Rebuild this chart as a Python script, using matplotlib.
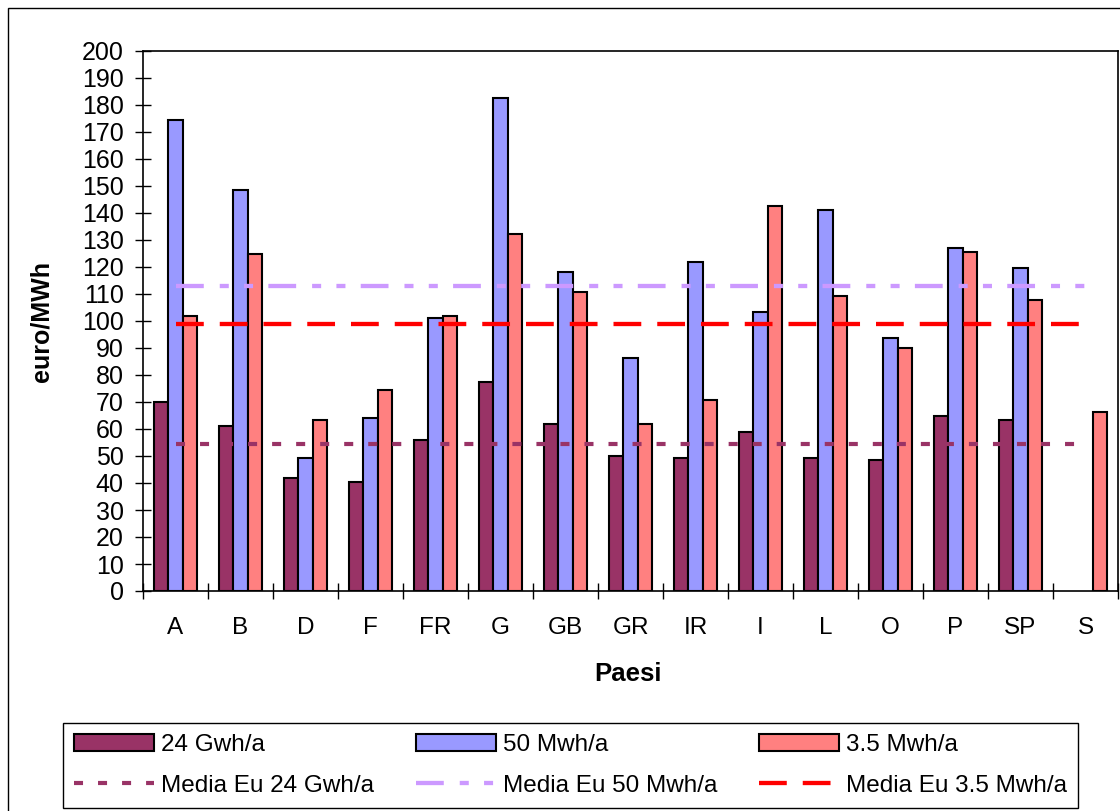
import numpy as np
import matplotlib
matplotlib.use("Agg")
import matplotlib.pyplot as plt
from matplotlib.patches import Rectangle

# prices per country, euro/MWh
paesi = ["A", "B", "D", "F", "FR", "G", "GB", "GR", "IR", "I", "L", "O", "P", "SP", "S"]
gwh_24 = [70, 61, 41.7, 40.2, 55.9, 77.4, 61.9, 49.9, 49.1, 58.9, 49.1, 48.5, 64.7, 63.3, np.nan]
mwh_50 = [174.5, 148.6, 49.3, 64, 101.2, 182.6, 118, 86.4, 121.9, 103.3, 141.1, 93.7, 126.9, 119.5, np.nan]
mwh_35 = [101.9, 124.9, 63.3, 74.4, 101.9, 132.1, 110.7, 61.9, 70.7, 142.6, 109.1, 90, 125.6, 107.8, 66.3]

# EU averages
media_24 = 54.5
media_50 = 113
media_35 = 99

series_labels = ["24 Gwh/a", "50 Mwh/a", "3.5 Mwh/a"]
media_labels = ["Media Eu 24 Gwh/a", "Media Eu 50 Mwh/a", "Media Eu 3.5 Mwh/a"]

plt.rcParams['font.family'] = ['Liberation Sans', 'DejaVu Sans']
plt.rcParams['lines.scale_dashes'] = False

W, H = 1120, 811
fig = plt.figure(figsize=(W / 100, H / 100), dpi=100)
ax = fig.add_axes([143 / W, (H - 591) / H, (1118 - 143) / W, (591 - 51) / H])

x = np.arange(len(paesi))
bw = 0.222
bar_kw = dict(width=bw, edgecolor='black', linewidth=1.5, zorder=2)
b1 = ax.bar(x - bw, gwh_24, color='#993366', label=series_labels[0], **bar_kw)
b2 = ax.bar(x, mwh_50, color='#9999FF', label=series_labels[1], **bar_kw)
b3 = ax.bar(x + bw, mwh_35, color='#FF8080', label=series_labels[2], **bar_kw)

# average lines across all countries
l1, = ax.plot(x, [media_24] * len(x), color='#993366', lw=3.0,
              dashes=(6.5, 10.8), dash_capstyle='butt',
              label=media_labels[0], zorder=3)
l2, = ax.plot(x, [media_50] * len(x), color='#CC99FF', lw=3.1,
              dashes=(20, 11.5, 6.5, 11, 6.5, 11), dash_capstyle='butt',
              label=media_labels[1], zorder=3)
l3, = ax.plot(x, [media_35] * len(x), color='#FF0000', lw=3.1,
              dashes=(20, 11.5), dash_capstyle='butt',
              label=media_labels[2], zorder=3)

ax.set_xlim(-0.5, len(paesi) - 0.5)
ax.set_ylim(0, 200)
ax.set_yticks(np.arange(0, 201, 10))
ax.set_xticks(x)
ax.set_xticklabels(paesi)
ax.set_xticks(np.arange(-0.5, len(paesi), 1.0), minor=True)

ax.tick_params(axis='y', direction='inout', length=12, width=1, pad=8, labelsize=18)
ax.tick_params(axis='x', which='major', length=0, pad=19, labelsize=17.5)
ax.tick_params(axis='x', which='minor', direction='inout', length=11.5, width=1)
for s in ax.spines.values():
    s.set_linewidth(1.2)
    s.set_color('black')

fig.text(42 / W, 1 - 321 / H, "euro/MWh", rotation=90, ha='center', va='center',
         fontsize=18, fontweight='bold')
fig.text(628 / W, 1 - 674 / H, "Paesi", ha='center', va='center',
         fontsize=18.5, fontweight='bold')

handles = [b1, l1, b2, l2, b3, l3]
leg = fig.legend(handles=handles, labels=[h.get_label() for h in handles],
                 ncol=3, loc='upper left', mode='expand',
                 bbox_to_anchor=(63 / W, 1 - 723 / H - 0.01, (1078 - 63) / W, 0.01),
                 borderaxespad=0, fontsize=17.5, handlelength=3.3,
                 handletextpad=0.3, labelspacing=0.78, columnspacing=0.9,
                 borderpad=0.45, fancybox=False, framealpha=1)
leg.get_frame().set_edgecolor('black')
leg.get_frame().set_linewidth(1.0)

# outer chart border
fig.patches.append(Rectangle((8 / W, -0.1), 1.5, 1.1 - 8 / H, transform=fig.transFigure,
                             fill=False, edgecolor='black', linewidth=1.0))

fig.savefig("out.png", dpi=100)
